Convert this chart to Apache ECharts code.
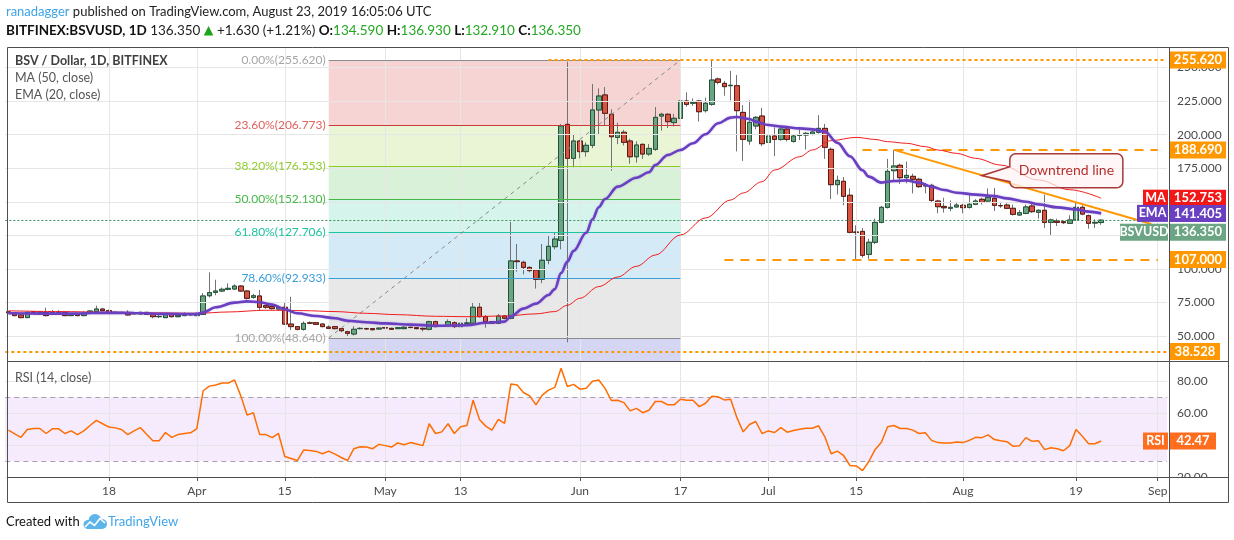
<!DOCTYPE html>
<html>
<head>
<meta charset="utf-8">
<title>BSV / Dollar, 1D, BITFINEX</title>
<script src="https://cdn.jsdelivr.net/npm/echarts/dist/echarts.min.js"></script>
<style>
html,body{margin:0;padding:0;background:#ffffff;}
#chart{width:1234px;height:540px;}
</style>
</head>
<body>
<div id="chart"></div>
<script>
// ---------------- data ----------------
const dayCount = 185;               // 2019-03-02 .. 2019-09-02
const categories = [];
(function () {
  const t0 = Date.UTC(2019, 2, 2);
  for (let k = 0; k < dayCount; k++) categories.push(new Date(t0 + k * 86400000).toISOString().slice(0, 10));
})();

const open = [
 68.1,67.5,65.8,63.8,68.2,67.8,67.7,66.2,67.6,67.7,
 65.3,66.7,65.3,67.0,68.2,70.2,69.0,67.6,67.7,67.7,
 66.6,66.5,67.7,66.2,64.5,63.8,66.2,64.5,65.3,65.8,
 65.3,66.2,80.1,82.6,83.6,84.9,85.1,87.3,83.6,78.9,
 79.9,72.7,72.0,70.2,71.5,59.0,57.1,55.1,59.9,60.0,
 59.0,56.8,57.1,55.6,53.3,51.6,55.6,55.6,55.6,55.3,
 56.3,55.8,55.6,55.6,56.6,56.3,55.8,55.1,60.8,57.6,
 57.8,60.0,57.1,59.6,59.6,71.5,64.5,60.8,59.6,65.0,
 63.3,106.0,105.0,101.2,99.3,92.3,106.5,116.6,121.3,207.7,
 182.4,195.3,187.4,192.1,218.4,229.6,215.2,198.0,201.8,195.3,
 183.6,192.8,185.6,189.1,213.9,215.2,209.0,212.2,225.1,223.4,
 225.1,217.9,222.6,241.5,238.2,236.5,236.5,216.6,195.3,206.5,
 213.9,194.3,199.0,196.5,204.2,195.0,199.6,199.8,200.5,201.8,
 204.7,189.1,162.8,165.3,154.9,127.5,128.0,110.9,119.9,134.7,
 145.9,173.2,177.2,168.0,169.0,166.8,161.8,162.3,150.6,146.6,
 145.2,146.2,147.4,145.9,148.2,151.9,150.6,152.6,147.2,147.6,
 145.2,140.2,141.4,146.9,142.2,143.7,134.7,135.7,135.2,134.0,
 136.5,145.9,139.7,134.2,134.59
];
const close = [
 67.4,65.3,63.8,67.7,67.7,68.0,65.3,67.7,67.8,65.3,
 66.2,65.3,67.0,68.7,70.2,69.0,67.5,67.8,67.4,65.8,
 66.9,67.7,66.2,64.5,64.7,66.2,64.5,65.5,66.0,66.2,
 67.0,79.9,82.4,83.6,84.9,85.6,87.3,83.6,78.2,80.1,
 71.5,71.5,70.5,71.5,59.0,57.1,55.1,59.5,59.7,58.8,
 57.1,55.8,55.6,54.1,52.1,55.1,55.8,55.4,54.8,56.0,
 56.1,55.1,56.3,56.6,56.4,55.6,55.3,60.8,57.1,57.3,
 60.8,57.1,59.6,59.8,71.5,64.5,60.8,59.6,65.0,63.3,
 106.0,105.5,101.2,98.8,92.3,106.5,116.9,122.3,206.5,182.4,
 195.3,187.4,192.1,218.4,228.8,215.9,198.5,201.8,194.3,183.6,
 192.3,185.6,189.8,212.9,215.2,209.7,212.2,225.1,222.6,224.1,
 217.1,223.4,240.7,239.0,235.8,236.8,217.9,196.5,209.2,212.9,
 193.3,199.0,196.5,204.2,196.5,199.0,199.9,201.0,202.0,204.7,
 190.6,162.8,166.0,154.1,127.3,127.3,110.2,119.9,134.7,145.9,
 172.7,176.7,168.0,169.7,166.8,161.3,162.3,151.1,146.4,145.6,
 145.9,147.6,145.7,148.2,150.6,149.6,153.4,147.4,147.1,145.2,
 140.7,141.9,146.2,142.7,143.7,134.7,136.5,134.7,134.5,136.5,
 145.9,140.9,134.0,134.72,136.35
];
const low = [
 66.8,64.8,63.3,63.5,67.2,67.4,64.8,65.7,67.0,64.9,
 64.9,64.8,64.9,66.6,67.9,68.6,67.0,67.2,67.0,65.3,
 66.2,66.2,65.8,63.3,63.5,63.4,64.1,64.1,64.9,65.4,
 64.9,65.8,78.8,80.5,82.8,84.2,84.6,83.0,77.2,77.8,
 69.5,70.3,69.8,69.6,58.3,54.6,54.3,54.1,59.0,58.3,
 56.6,55.3,55.0,52.9,50.1,50.5,55.0,54.9,54.3,54.9,
 55.7,54.6,55.2,55.2,55.9,55.0,53.5,54.3,56.5,56.9,
 57.3,56.0,56.5,59.0,59.1,63.8,56.3,59.0,59.0,62.5,
 62.5,98.0,96.0,97.5,85.4,89.4,103.5,114.6,114.6,45.4,
 175.7,182.4,183.7,190.0,200.5,207.0,173.2,193.0,192.0,178.4,
 179.2,182.0,184.3,188.0,203.0,205.0,206.2,211.0,221.0,221.5,
 209.8,216.5,221.5,237.5,229.0,225.6,187.6,180.5,192.5,204.0,
 191.5,190.0,184.0,195.5,195.0,194.0,196.0,189.0,199.5,200.8,
 182.0,152.0,155.5,147.5,126.5,107.0,108.5,107.5,118.5,134.0,
 145.0,166.0,163.3,163.8,156.3,160.5,156.3,150.0,141.5,142.0,
 143.0,145.5,141.5,145.0,147.5,148.0,149.8,143.2,145.5,144.5,
 139.8,139.5,140.8,141.8,137.5,130.6,124.6,132.0,133.5,133.5,
 136.0,140.0,130.0,130.6,132.91
];
const high = [
 68.6,67.8,66.2,68.2,68.6,68.4,71.2,69.5,69.3,68.2,
 66.8,67.0,68.5,69.2,72.7,70.6,69.8,68.3,68.0,69.3,
 67.3,68.4,68.1,66.6,65.8,66.6,66.5,65.9,67.7,66.6,
 67.4,82.0,97.5,92.0,86.2,89.3,88.6,88.0,84.2,81.5,
 84.4,73.4,72.6,72.2,74.9,79.4,57.6,61.0,61.0,60.5,
 59.5,58.0,57.6,56.0,54.0,57.5,56.6,56.3,56.0,56.4,
 56.8,56.3,56.8,57.5,57.0,56.8,56.3,61.5,61.5,58.1,
 62.5,61.0,60.4,63.3,74.9,75.2,65.7,61.1,66.5,65.5,
 135.0,118.6,106.2,102.0,100.0,118.6,124.6,127.3,208.0,254.4,
 199.8,196.0,194.3,237.8,234.5,235.5,219.0,209.0,203.5,197.0,
 195.0,193.5,193.0,220.6,216.3,216.0,215.5,236.7,231.5,227.0,
 226.0,227.6,255.2,242.5,240.0,247.5,244.5,222.0,225.6,214.0,
 220.0,202.0,205.5,205.0,205.2,200.5,204.0,202.0,203.0,214.6,
 208.0,190.5,169.5,168.5,160.0,132.5,130.5,122.5,137.5,147.0,
 182.0,188.7,178.5,180.0,171.0,168.0,164.0,163.5,151.5,153.0,
 151.0,150.0,148.5,156.6,152.0,153.0,160.0,160.3,150.0,149.0,
 148.0,144.0,148.0,148.5,144.5,155.3,137.5,137.5,136.0,140.0,
 149.7,147.5,140.5,137.0,136.93
];
const rsi = [
 49.3,47.0,44.8,49.7,50.3,50.3,47.2,50.1,50.1,47.2,
 48.8,46.5,48.8,52.2,55.4,53.3,51.2,50.7,49.7,46.5,
 48.8,50.9,46.7,42.7,42.7,47.8,44.8,46.5,47.2,47.6,
 50.3,73.9,76.8,77.5,78.7,78.7,80.6,70.7,58.7,60.2,
 46.5,46.5,44.6,47.2,32.8,31.6,30.3,36.8,36.6,36.0,
 34.5,36.2,34.3,32.2,30.3,37.7,38.9,38.7,37.7,40.4,
 39.6,38.7,41.3,40.2,41.5,40.6,39.6,53.3,47.2,48.2,
 53.3,47.2,51.4,52.2,68.0,56.0,51.8,49.3,56.0,53.5,
 78.1,77.5,72.8,70.7,65.1,71.2,74.3,76.0,88.0,76.6,
 77.9,74.9,75.4,79.8,80.6,75.4,67.8,68.0,66.5,61.3,
 62.9,60.2,61.7,67.2,67.2,65.1,65.1,68.6,68.0,68.0,
 64.0,66.1,70.5,70.1,68.2,68.6,57.1,48.2,52.8,54.7,
 47.2,48.8,47.8,50.9,48.0,49.1,49.9,50.5,50.5,52.0,
 45.1,34.5,36.2,33.3,27.2,26.9,24.0,29.7,37.1,41.7,
 51.4,52.2,50.3,50.3,49.3,47.2,47.6,42.9,41.5,41.3,
 41.3,41.9,41.5,42.9,44.8,44.6,46.3,43.4,42.7,42.1,
 39.2,39.6,44.6,42.3,42.7,37.1,38.3,37.7,36.4,39.6,
 49.7,45.5,40.8,40.8,42.47
];
// moving averages read at points along the curves: [day index, value]
const ma50Points = [[0,68.9],[8,68.3],[16,67.8],[24,67.3],[30,67.0],[35,68.0],[41,69.3],[47,69.0],[52,68.3],[57,67.0],[62,66.0],[68,64.8],[73,64.5],[79,65.0],[84,66.6],[87,68.3],[89,73.0],[91,78.2],[94,86.9],[97,94.0],[100,102.0],[103,110.4],[107,125.3],[111,138.0],[115,151.4],[117,156.6],[120,165.0],[122,173.7],[126,183.6],[128,188.6],[131,195.6],[135,198.0],[138,196.5],[140,194.8],[143,193.6],[146,191.1],[148,188.6],[151,186.1],[154,182.4],[158,177.4],[164,166.3],[169,159.0],[174,152.753]];
const ema20Points = [[0,67.0],[5,66.8],[10,66.8],[15,67.4],[20,67.2],[25,66.6],[30,66.4],[31,67.6],[33,71.5],[36,75.0],[38,75.9],[40,75.3],[42,73.5],[44,70.0],[46,67.0],[49,65.0],[52,63.3],[54,61.5],[57,60.3],[60,59.5],[64,58.6],[68,57.8],[73,58.1],[76,60.0],[79,60.8],[80,64.8],[82,70.5],[84,74.2],[86,80.6],[87,85.0],[88,97.0],[89,105.5],[90,113.5],[92,127.0],[93,137.0],[94,146.0],[95,152.1],[97,161.3],[100,168.0],[102,172.0],[103,177.4],[105,184.9],[107,188.6],[109,193.6],[111,200.3],[113,208.5],[115,212.7],[116,213.2],[118,211.7],[119,209.7],[121,207.2],[123,206.0],[126,204.7],[128,204.0],[130,202.3],[132,194.0],[134,184.0],[136,173.5],[137,168.8],[139,164.3],[141,165.5],[143,166.0],[145,164.3],[147,161.3],[149,158.8],[151,156.8],[154,155.4],[157,154.3],[159,152.6],[162,150.1],[164,148.1],[167,145.9],[170,144.4],[172,142.7],[174,141.405]];

// tick labels
const priceTicks = [50, 75, 100, 125, 150, 175, 200, 225, 250];
const rsiTicks = [20, 40, 60, 80];
const timeTicks = ['2019-03-18','2019-04-01','2019-04-15','2019-05-01','2019-05-13','2019-06-01','2019-06-17','2019-07-01','2019-07-15','2019-08-01','2019-08-19','2019-09-01'];
const timeTickLabels = ['18','Apr','15','May','13','Jun','17','Jul','15','Aug','19','Sep'];

// drawings
const fibStart = '2019-04-22', fibEnd = '2019-06-17';
const fibValues = [255.62, 206.773, 176.553, 152.13, 127.706, 92.933, 48.64];
const fibPercents = ['0.00%', '23.60%', '38.20%', '50.00%', '61.80%', '78.60%', '100.00%'];
const levelTop = 255.62, levelUpper = 188.69, levelSupport = 107.0, levelBottom = 38.528;
const trendStart = ['2019-07-21', 188.69], trendEnd = ['2019-08-31', 133.5];
const calloutAnchor = ['2019-08-04', 169.5];
const lastPrice = 136.35, lastMA = 152.753, lastEMA = 141.405, lastRSI = 42.47;

// ---------------- styles ----------------
const FONT = "Lato, 'Open Sans', 'DejaVu Sans', sans-serif";
const GRIDC = '#e6e6e6';
const TXT = '#4a4a4a';
const CLEAR = 'rgba(0,0,0,0)';
const fibLineColors = ['#8c8c8c', '#c93b3b', '#8fcc2b', '#47b847', '#1fc4a0', '#3a9ed8', '#8c8c8c'];
const fibTextColors = ['#a6a6a6', '#e0625d', '#8fcc2b', '#47b847', '#1fc4a0', '#3a9ed8', '#a6a6a6'];
const fibBandColors = ['rgba(212,60,60,0.22)', 'rgba(150,205,50,0.2)', 'rgba(76,190,76,0.22)', 'rgba(40,200,160,0.2)', 'rgba(60,160,215,0.22)', 'rgba(140,140,140,0.2)'];
const ORANGE = '#ff9800';

const GRID_LEFT = 5.3, GRID_W = 1161.8, GRID_RIGHT = GRID_LEFT + GRID_W;

function tag(value, text, color, name, nameW, valW, dy) {
  const rich = {
    n: {backgroundColor: color, color: '#fff', width: nameW || 0, height: 17, lineHeight: 17, align: 'center', fontSize: 12.5, fontWeight: 'bold', fontFamily: FONT},
    g: {backgroundColor: '#fff', width: 2, height: 17, lineHeight: 17},
    v: {backgroundColor: color, color: '#fff', width: valW, height: 17, lineHeight: 17, align: 'center', fontSize: 13, fontWeight: 'bold', fontFamily: FONT}
  };
  const offX = name ? (1168 - nameW) - GRID_RIGHT : 1170 - GRID_RIGHT;
  return {
    yAxis: value,
    lineStyle: {color: CLEAR, width: 1, type: 'solid'},
    label: {show: true, position: 'end', distance: 0, offset: [offX, dy || 0], color: '#fff',
      formatter: name ? '{n|' + name + '}{g|}{v|' + text + '}' : '{v|' + text + '}', rich: rich}
  };
}

const ohlc = open.map((o, i) => [o, close[i], low[i], high[i]]);
const bodies = open.map((o, i) => [o, close[i], Math.min(o, close[i]), Math.max(o, close[i])]);

// main pane grid lines + price labels
const mainGridLines = priceTicks.map(v => ({
  yAxis: v, lineStyle: {color: GRIDC, width: 1, type: 'solid'},
  label: {show: true, position: 'end', distance: 10, formatter: v.toFixed(3), color: TXT, fontSize: 12, fontFamily: FONT}
})).concat(timeTicks.map(t => ({xAxis: t, lineStyle: {color: GRIDC, width: 1, type: 'solid'}, label: {show: false}})));

// fib bands
const fibAreas = [];
for (let k = 0; k < fibValues.length - 1; k++) {
  fibAreas.push([{coord: [fibStart, fibValues[k]], itemStyle: {color: fibBandColors[k]}}, {coord: [fibEnd, fibValues[k + 1]]}]);
}
fibAreas.push([{coord: [fibStart, fibValues[fibValues.length - 1]], itemStyle: {color: 'rgba(80,80,210,0.24)'}}, {coord: [fibEnd, 31.5]}]);
const fibLines = fibValues.map((v, k) => [
  {coord: [fibStart, v], lineStyle: {color: fibLineColors[k], width: 1, type: 'solid'},
   label: {show: true, position: 'start', distance: 3, formatter: fibPercents[k] + '(' + v.toFixed(3) + ')', color: fibTextColors[k], fontSize: 12, fontFamily: FONT}},
  {coord: [fibEnd, v]}
]);
fibLines.push([{coord: [fibStart, fibValues[6]], lineStyle: {color: '#8a8a8a', width: 1, type: [4, 4]}, label: {show: false}}, {coord: [fibEnd, fibValues[0]]}]);

const levelLines = [
  [{coord: ['2019-05-27', levelTop], lineStyle: {color: ORANGE, width: 2, type: [3, 3]}, label: {show: false}}, {coord: ['2019-09-02', levelTop]}],
  {yAxis: levelBottom, lineStyle: {color: ORANGE, width: 2, type: [3, 3]}, label: {show: false}},
  [{coord: ['2019-07-16', levelUpper], lineStyle: {color: ORANGE, width: 2, type: [9, 7]}, label: {show: false}}, {coord: ['2019-09-01', levelUpper]}],
  [{coord: ['2019-06-24', levelSupport], lineStyle: {color: ORANGE, width: 2, type: [9, 7]}, label: {show: false}}, {coord: ['2019-09-01', levelSupport]}],
  {yAxis: lastPrice, lineStyle: {color: '#3f8f62', width: 1, type: [2, 2]}, label: {show: false}},
  [{coord: trendStart, lineStyle: {color: ORANGE, width: 2, type: 'solid'}, label: {show: false}}, {coord: trendEnd}]
];

const mainTags = [
  tag(levelTop, '255.620', ORANGE, null, 0, 56),
  tag(levelUpper, '188.690', ORANGE, null, 0, 56),
  tag(levelSupport, '107.000', ORANGE, null, 0, 56),
  tag(levelBottom, '38.528', ORANGE, null, 0, 50),
  tag(lastMA, '152.753', '#f21818', 'MA', 25, 56),
  tag(lastEMA, '141.405', '#6a3fc2', 'EMA', 31, 56),
  tag(lastPrice, '136.350', '#6ba583', 'BSVUSD', 48, 56, 12)
];

const rsiGridLines = rsiTicks.map(v => ({
  yAxis: v, lineStyle: {color: GRIDC, width: 1, type: 'solid'},
  label: {show: true, position: 'end', distance: 10, formatter: v.toFixed(2), color: TXT, fontSize: 12, fontFamily: FONT}
})).concat(timeTicks.map(t => ({xAxis: t, lineStyle: {color: GRIDC, width: 1, type: 'solid'}, label: {show: false}})))
  .concat([70, 30].map(v => ({yAxis: v, lineStyle: {color: '#a8a0ad', width: 1, type: [5, 4]}, label: {show: false}})));

const tickSet = new Set(timeTicks);
const tickLabelOf = {};
timeTicks.forEach((t, k) => { tickLabelOf[t] = timeTickLabels[k]; });

const invisible = {type: 'line', symbol: 'none', silent: true, lineStyle: {opacity: 0, width: 0}, data: close, animation: false};

const option = {
  animation: false,
  backgroundColor: '#ffffff',
  textStyle: {fontFamily: FONT},
  grid: [
    {left: GRID_LEFT, top: 47, width: GRID_W, height: 314, outerBoundsMode: 'none'},
    {left: GRID_LEFT, top: 361, width: GRID_W, height: 116, outerBoundsMode: 'none'}
  ],
  xAxis: [
    {type: 'category', gridIndex: 0, data: categories, boundaryGap: true, axisLine: {show: false}, axisTick: {show: false}, axisLabel: {show: false}, splitLine: {show: false}},
    {type: 'category', gridIndex: 1, data: categories, boundaryGap: true, axisLine: {show: false},
     axisTick: {show: true, alignWithLabel: true, length: 4, interval: (i, v) => tickSet.has(v), lineStyle: {color: '#555'}},
     axisLabel: {show: true, interval: (i, v) => tickSet.has(v), formatter: v => tickLabelOf[v] || '', color: TXT, fontSize: 12, fontFamily: FONT, margin: 8},
     splitLine: {show: false}}
  ],
  yAxis: [
    {type: 'value', gridIndex: 0, position: 'right', min: 31.5, max: 265.3, axisLine: {show: false}, axisTick: {show: false}, axisLabel: {show: false}, splitLine: {show: false}},
    {type: 'value', gridIndex: 1, position: 'right', min: 20, max: 92.5, axisLine: {show: false}, axisTick: {show: false}, axisLabel: {show: false}, splitLine: {show: false}}
  ],
  series: [
    Object.assign({}, invisible, {name: 'grid', xAxisIndex: 0, yAxisIndex: 0, z: 1,
      markLine: {symbol: 'none', silent: true, animation: false, data: mainGridLines}}),
    Object.assign({}, invisible, {name: 'fib', xAxisIndex: 0, yAxisIndex: 0, z: 2,
      markArea: {silent: true, animation: false, data: fibAreas},
      markLine: {symbol: 'none', silent: true, animation: false, data: fibLines}}),
    {name: 'wicks', type: 'candlestick', xAxisIndex: 0, yAxisIndex: 0, z: 3, barWidth: 5, silent: true, data: ohlc,
      itemStyle: {color: '#737375', color0: '#737375', borderColor: '#737375', borderColor0: '#737375', borderWidth: 1}},
    {name: 'BSVUSD', type: 'candlestick', xAxisIndex: 0, yAxisIndex: 0, z: 4, barWidth: 5, silent: true, data: bodies,
      itemStyle: {color: '#6ba583', color0: '#d75442', borderColor: '#225437', borderColor0: '#5b1a13', borderWidth: 1}},
    {name: 'MA (50, close)', type: 'line', xAxisIndex: 0, yAxisIndex: 0, z: 5, symbol: 'none', smooth: 0.35, smoothMonotone: 'x', silent: true,
      data: ma50Points.map(p => [categories[p[0]], p[1]]), lineStyle: {color: '#f21c1c', width: 1}},
    {name: 'EMA (20, close)', type: 'line', xAxisIndex: 0, yAxisIndex: 0, z: 5, symbol: 'none', smooth: 0.35, smoothMonotone: 'x', silent: true,
      data: ema20Points.map(p => [categories[p[0]], p[1]]), lineStyle: {color: '#6a3fc2', width: 2.6, shadowColor: 'rgba(106,63,194,0.35)', shadowBlur: 2}},
    Object.assign({}, invisible, {name: 'levels', xAxisIndex: 0, yAxisIndex: 0, z: 6,
      markLine: {symbol: 'none', silent: true, animation: false, data: levelLines}}),
    Object.assign({}, invisible, {name: 'tags', xAxisIndex: 0, yAxisIndex: 0, z: 120,
      markLine: {symbol: 'none', silent: true, animation: false, data: mainTags}}),
    {type: 'line', name: 'rsiGrid', xAxisIndex: 1, yAxisIndex: 1, z: 1, symbol: 'none', silent: true, lineStyle: {opacity: 0, width: 0}, data: rsi,
      markArea: {silent: true, animation: false, data: [[{yAxis: 30, itemStyle: {color: 'rgba(165,70,230,0.11)'}}, {yAxis: 70}]]},
      markLine: {symbol: 'none', silent: true, animation: false, data: rsiGridLines}},
    {type: 'line', name: 'RSI (14, close)', xAxisIndex: 1, yAxisIndex: 1, z: 5, symbol: 'none', silent: true, data: rsi,
      lineStyle: {color: '#ff6d00', width: 1.5}},
    {type: 'line', name: 'rsiTag', xAxisIndex: 1, yAxisIndex: 1, z: 120, symbol: 'none', silent: true, lineStyle: {opacity: 0, width: 0}, data: rsi,
      markLine: {symbol: 'none', silent: true, animation: false, data: [tag(lastRSI, '42.47', '#ff6d1f', 'RSI', 25, 46)]}}
  ],
  graphic: [
    {id: 'mask', type: 'rect', z: 99, silent: true, shape: {x: 1170, y: 478, width: 58, height: 24}, style: {fill: '#ffffff'}},
    {id: 'frame', type: 'rect', z: 100, silent: true, shape: {x: 7.5, y: 47.5, width: 1221, height: 455}, style: {fill: 'none', stroke: '#4f4f4f', lineWidth: 1}},
    {id: 'vsep', type: 'line', z: 100, silent: true, shape: {x1: 1169.5, y1: 47, x2: 1169.5, y2: 503}, style: {stroke: '#4f4f4f', lineWidth: 1}},
    {id: 'hsep1', type: 'line', z: 100, silent: true, shape: {x1: 7, y1: 361.5, x2: 1229, y2: 361.5}, style: {stroke: '#4f4f4f', lineWidth: 1}},
    {id: 'hsep2', type: 'line', z: 100, silent: true, shape: {x1: 7, y1: 477.5, x2: 1229, y2: 477.5}, style: {stroke: '#4f4f4f', lineWidth: 1}},
    {id: 'head1', type: 'text', z: 100, x: 6, y: 12, style: {
      text: '{a|ranadagger}{b| published on TradingView.com, August 23, 2019 16:05:06 UTC}', verticalAlign: 'middle',
      rich: {a: {fill: '#3da4e6', fontSize: 13, fontFamily: FONT}, b: {fill: '#222', fontSize: 13, fontFamily: FONT}}}},
    {id: 'head2', type: 'text', z: 100, x: 6, y: 31, style: {
      text: '{k|BITFINEX:BSVUSD, 1D} {r|136.350} {t|▲} {r|+1.630 (+1.21%)} {k|O:}{g|134.590} {k|H:}{g|136.930} {k|L:}{g|132.910} {k|C:}{g|136.350}',
      verticalAlign: 'middle', fontSize: 13.5, fontFamily: FONT, fill: '#222',
      rich: {
        k: {fill: '#111', fontSize: 13.5, fontWeight: 'bold', fontFamily: FONT},
        r: {fill: '#222', fontSize: 13.5, fontFamily: FONT},
        t: {fill: '#1ea51e', fontSize: 12.5, fontFamily: "'DejaVu Sans', sans-serif"},
        g: {fill: '#22a822', fontSize: 13.5, fontFamily: FONT}
      }}},
    {id: 'leg1', type: 'text', z: 100, x: 15, y: 61, style: {text: 'BSV / Dollar, 1D, BITFINEX', fill: '#3f3f3f', fontSize: 12.5, fontWeight: 'bold', fontFamily: FONT, verticalAlign: 'middle'}},
    {id: 'leg2', type: 'text', z: 100, x: 15, y: 78, style: {text: 'MA (50, close)', fill: '#555', fontSize: 12.5, fontFamily: FONT, verticalAlign: 'middle'}},
    {id: 'leg3', type: 'text', z: 100, x: 15, y: 95, style: {text: 'EMA (20, close)', fill: '#555', fontSize: 12.5, fontFamily: FONT, verticalAlign: 'middle'}},
    {id: 'leg4', type: 'text', z: 100, x: 15, y: 378, style: {text: 'RSI (14, close)', fill: '#555', fontSize: 12.5, fontFamily: FONT, verticalAlign: 'middle'}},
    {id: 'foot1', type: 'text', z: 100, x: 6, y: 522, style: {text: 'Created with', fill: '#111', fontSize: 13, fontFamily: FONT, verticalAlign: 'middle'}},
    {id: 'logo', type: 'group', z: 100, x: 0, y: 0, children: [
      {type: 'circle', shape: {cx: 88, cy: 524.5, r: 4.5}, style: {fill: '#5db5ea'}},
      {type: 'circle', shape: {cx: 95, cy: 520.5, r: 6.5}, style: {fill: '#5db5ea'}},
      {type: 'circle', shape: {cx: 102, cy: 524, r: 5}, style: {fill: '#5db5ea'}},
      {type: 'rect', shape: {x: 88, y: 523, width: 14, height: 6}, style: {fill: '#5db5ea'}},
      {type: 'polyline', shape: {points: [[85, 527], [90, 522], [94.5, 525.5], [100, 518.5], [105, 523]]}, style: {stroke: '#ffffff', lineWidth: 1.6, fill: null}}
    ]},
    {id: 'foot2', type: 'text', z: 100, x: 108, y: 522, style: {text: 'TradingView', fill: '#3fa6e8', fontSize: 13, fontFamily: FONT, verticalAlign: 'middle'}}
  ]
};

const chart = echarts.init(document.getElementById('chart'), null, {renderer: 'canvas', width: 1234, height: 540});
chart.setOption(option);

// callout "Downtrend line", anchored on the trend line through the chart's own scales
const tip = chart.convertToPixel({xAxisIndex: 0, yAxisIndex: 0}, calloutAnchor);
const tx = tip[0], ty = tip[1];
const L = tx + 28, R = L + 113, T = ty - 22, B = ty + 12, rr = 6;
const pts = [];
function arc(cx, cy, a0, a1) {
  for (let k = 0; k <= 5; k++) { const a = a0 + (a1 - a0) * k / 5; pts.push([cx + rr * Math.cos(a), cy + rr * Math.sin(a)]); }
}
arc(L + rr, T + rr, Math.PI, 1.5 * Math.PI);
arc(R - rr, T + rr, 1.5 * Math.PI, 2 * Math.PI);
arc(R - rr, B - rr, 0, 0.5 * Math.PI);
arc(L + rr, B - rr, 0.5 * Math.PI, Math.PI);
pts.push([tx, ty]);
pts.push([L, ty - 9]);
chart.setOption({graphic: [
  {id: 'callout', type: 'polygon', z: 101, silent: true, shape: {points: pts}, style: {fill: 'rgba(255,244,244,0.72)', stroke: '#a8383a', lineWidth: 1.5}},
  {id: 'calloutText', type: 'text', z: 102, silent: true, x: (L + R) / 2, y: (T + B) / 2,
    style: {text: 'Downtrend line', fill: '#b3302f', fontSize: 14, fontFamily: FONT, align: 'center', verticalAlign: 'middle'}}
]});
</script>
</body>
</html>
